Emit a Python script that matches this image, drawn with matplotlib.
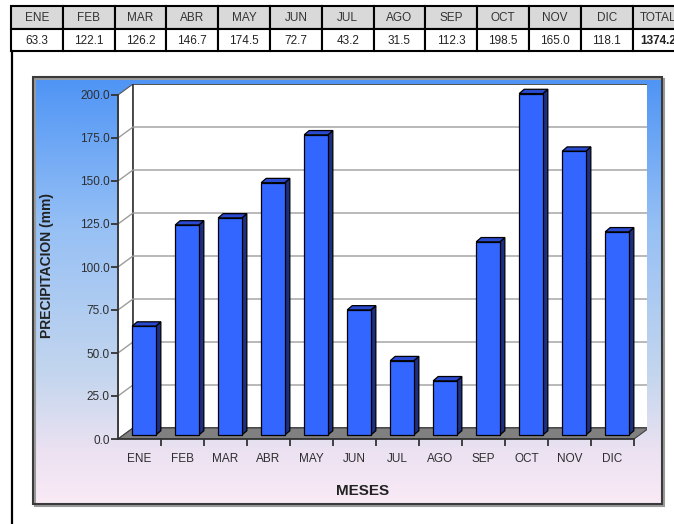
import matplotlib
matplotlib.use("Agg")
import matplotlib.pyplot as plt
import numpy as np
from matplotlib.patches import Polygon, Rectangle

plt.rcParams['font.family'] = ['Liberation Sans Narrow', 'Liberation Sans', 'DejaVu Sans']

# data
meses = ['ENE', 'FEB', 'MAR', 'ABR', 'MAY', 'JUN', 'JUL', 'AGO', 'SEP', 'OCT', 'NOV', 'DIC']
precip = [63.3, 122.1, 126.2, 146.7, 174.5, 72.7, 43.2, 31.5, 112.3, 198.5, 165.0, 118.1]
total_label = 'TOTAL'
total_value = '1374.2'
yticks = [0, 25, 50, 75, 100, 125, 150, 175, 200]

W, H = 674, 524
fig = plt.figure(figsize=(W / 100, H / 100), dpi=100)

# background layer in pixel coordinates (table, frame, gradient)
bg = fig.add_axes([0, 0, 1, 1])
bg.set_xlim(0, W)
bg.set_ylim(H, 0)
bg.axis('off')

# table at the top
col0, colw = 11, 51.8
r0, r1, r2 = 6, 29, 51
heads = meses + [total_label]
vals = [f'{v:.1f}' for v in precip] + [total_value]
for j, (h, v) in enumerate(zip(heads, vals)):
    x = col0 + j * colw
    bg.add_patch(Rectangle((x, r0), colw, r1 - r0, facecolor='#d9d9d9',
                           edgecolor='black', lw=1.5))
    bg.add_patch(Rectangle((x, r1), colw, r2 - r1, facecolor='white',
                           edgecolor='black', lw=1.5))
    bg.text(x + colw / 2, (r0 + r1) / 2 + 0.5, h, ha='center', va='center',
            fontsize=8.5, color='#333333')
    bg.text(x + colw / 2, (r1 + r2) / 2 + 0.5, v, ha='center', va='center',
            fontsize=8.5, color='#222222',
            fontweight='bold' if h == total_label else 'normal')

# left border line
bg.plot([12, 12], [r2, H], color='black', lw=1.6)

# chart area with vertical gradient
bx0, bx1, by0, by1 = 33, 662, 77, 504
stops = np.array([[78, 148, 245], [150, 192, 245], [196, 214, 238], [236, 226, 242], [250, 234, 246]]) / 255
pos = np.array([0.0, 0.35, 0.7, 0.88, 1.0])
yy = np.linspace(0, 1, 300)
grad = np.stack([np.interp(yy, pos, stops[:, k]) for k in range(3)], axis=1)[:, None, :]
bg.imshow(grad, extent=(bx0, bx1, by1, by0), aspect='auto', zorder=1)
bg.add_patch(Rectangle((bx0 + 2, by0 + 2), bx1 - bx0, by1 - by0, facecolor='none',
                       edgecolor='#9a9a9a', lw=1.5, zorder=1.5))
bg.add_patch(Rectangle((bx0, by0), bx1 - bx0, by1 - by0, facecolor='none',
                       edgecolor='#3a3a3a', lw=1.5, zorder=2))
bg.set_xlim(0, W)
bg.set_ylim(H, 0)

bg.text(47, 265, 'PRECIPITACION (mm)', rotation=90, ha='center', va='center',
        fontsize=10, fontweight='bold', color='#222222')
bg.text(363, 491, 'MESES', ha='center', va='center',
        fontsize=11, fontweight='bold', color='#222222')

# main 3D-like bar chart
px_x, px_y = 43.0, 1.72          # pixels per category / per mm
x_front, y_front = 118, 439       # pixel of origin
x_right, y_top = 647, 84
ax = fig.add_axes([x_front / W, (H - y_front) / H,
                   (x_right - x_front) / W, (y_front - y_top) / H])
ax.set_xlim(0, (x_right - x_front) / px_x)
ax.set_ylim(0, (y_front - y_top) / px_y)
ax.patch.set_visible(False)
ax.set_zorder(3)

n = len(meses)
dx, dy = 15 / px_x, 11 / px_y     # wall depth
bdx, bdy = 5 / px_x, 4.3 / px_y   # bar depth
bo_x, bo_y = 0.0, 4 / px_y        # bar offset into depth
ymax = yticks[-1]

# walls
ax.add_patch(Polygon([(0, 0), (dx, dy), (dx, ymax + dy), (0, ymax)],
                     facecolor='white', edgecolor='#555555', lw=0.8, zorder=1))
ax.add_patch(Rectangle((dx, dy), n, ymax, facecolor='white',
                       edgecolor='#333333', lw=1.2, zorder=1))
for v in yticks[1:-1]:
    ax.plot([0, dx, n + dx], [v, v + dy, v + dy], color='#9c9c9c', lw=1.0, zorder=2)
ax.add_patch(Polygon([(0, 0), (n, 0), (n + dx, dy), (dx, dy)],
                     facecolor='#808080', edgecolor='#404040', lw=0.8, zorder=2))

# bars
x0s = np.arange(n) + 0.33 + bo_x
bw = 0.55
ax.bar(x0s, precip, width=bw, bottom=bo_y, align='edge', color='#3366ff',
       edgecolor='black', lw=0.9, zorder=5)
for x0, v in zip(x0s, precip):
    x1 = x0 + bw
    top = bo_y + v
    ax.add_patch(Polygon([(x1, bo_y), (x1 + bdx, bo_y + bdy), (x1 + bdx, top + bdy), (x1, top)],
                         facecolor='#1c2f82', edgecolor='black', lw=0.9, zorder=4))
    ax.add_patch(Polygon([(x0, top), (x1, top), (x1 + bdx, top + bdy), (x0 + bdx, top + bdy)],
                         facecolor='#2a4ad0', edgecolor='black', lw=0.9, zorder=4))

# axes lines and ticks
for s in ['top', 'right']:
    ax.spines[s].set_visible(False)
ax.spines['left'].set_bounds(0, ymax)
ax.spines['bottom'].set_bounds(0, n)
ax.spines['left'].set_color('#333333')
ax.spines['bottom'].set_color('#333333')
ax.spines['left'].set_linewidth(1.3)
ax.spines['bottom'].set_linewidth(1.3)
ax.set_yticks(yticks)
ax.set_yticklabels([f'{v:.1f}' for v in yticks])
ax.set_xticks(np.arange(1, n + 1))
ax.set_xticklabels([])
ax.set_xticks(np.arange(n) + 0.5, minor=True)
ax.set_xticklabels(meses, minor=True)
ax.tick_params(axis='both', which='major', direction='out', length=5, width=1.3,
               color='#333333', labelsize=8.5, labelcolor='#2e2e2e', pad=1)
ax.tick_params(axis='x', which='minor', length=0, labelsize=8.5, labelcolor='#2e2e2e', pad=10)

fig.savefig('out.png', dpi=100)
